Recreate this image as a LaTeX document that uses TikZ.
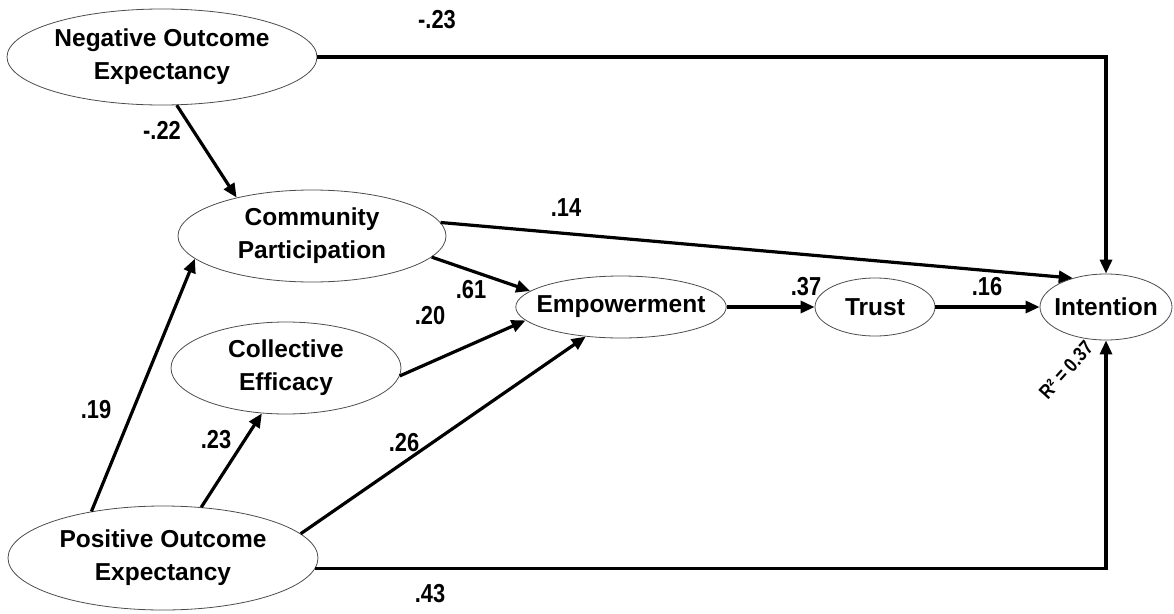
\documentclass[tikz,border=0pt]{standalone}
\usepackage{fontspec}
\setmainfont{Liberation Sans}
\newfontfamily\coeffont{Liberation Sans}[FakeStretch=0.84]
\usetikzlibrary{shapes.geometric,arrows.meta}
\tikzset{
	latent/.style={
		ellipse,
		draw=black!70,
		line width=0.8pt,
		inner xsep=-10pt,
		inner ysep=0pt,
		align=center,
		font=\fontsize{24.5}{33}\selectfont\bfseries
	},
	coef/.style={
		inner sep=0pt,
		font=\coeffont\fontsize{26}{28}\selectfont\bfseries
	},
	effect/.style={
		line width=3.2pt,
		-{Triangle[length=14pt,width=12pt]}
	}
}

\begin{document}
\begin{tikzpicture}[x=1pt,y=-1pt]
	\useasboundingbox (0,0) rectangle (1174,613);
	% latent variables
	\node[latent,minimum width=310pt,minimum height=96pt] (neg) at (162,57) {Negative Outcome\\Expectancy};
	\node[latent,minimum width=268pt,minimum height=92pt] (part) at (312,236) {Community\\Participation};
	\node[latent,minimum width=230pt,minimum height=92pt] (eff) at (286,368) {Collective\\Efficacy};
	\node[latent,minimum width=208pt,minimum height=62pt] (emp) at (621,307) {Empowerment};
	\node[latent,minimum width=120pt,minimum height=58pt] (trust) at (875,307) {Trust};
	\node[latent,minimum width=132pt,minimum height=66pt] (int) at (1106,307) {Intention};
	\node[latent,minimum width=310pt,minimum height=104pt] (pos) at (163,558) {Positive Outcome\\Expectancy};
	% paths
	\draw[effect] (neg.east) -| (int.north);
	\draw[effect] (neg.-73) -- (part.153);
	\draw[effect] (part.6) -- (int.139);
	\draw[effect] (part.-10) -- (emp.170);
	\draw[effect] (eff.-4) -- (emp.188);
	\draw[effect] (pos.147) -- (part.191);
	\draw[effect] (pos.53) -- (eff.242);
	\draw[effect] (pos.10) -- (emp.220);
	\draw[effect] (pos.-4) -| (int.south);
	\draw[effect] (emp.east) -- (trust.west);
	\draw[effect] (trust.east) -- (int.west);
	% coefficients
	\node[coef] (c-neg-int) at (437,20) {-.23};
	\node[coef] (c-neg-part) at (162,130) {-.22};
	\node[coef] (c-part-int) at (566,208) {.14};
	\node[coef] (c-part-emp) at (471,290) {.61};
	\node[coef] (c-eff-emp) at (430,316) {.20};
	\node[coef] (c-pos-part) at (96,410) {.19};
	\node[coef] (c-pos-eff) at (216,440) {.23};
	\node[coef] (c-pos-emp) at (404,443) {.26};
	\node[coef] (c-pos-int) at (430,594) {.43};
	\node[coef] (c-emp-trust) at (806,287) {.37};
	\node[coef] (c-trust-int) at (987,287) {.16};
	\node[coef,rotate=48,font=\coeffont\fontsize{20}{22}\selectfont\bfseries] (rsq) at (1066,370) {R² = 0.37};
\end{tikzpicture}
\end{document}
